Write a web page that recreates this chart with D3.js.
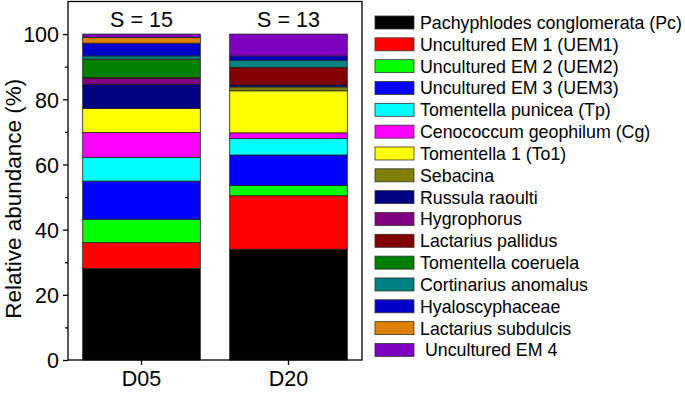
<!DOCTYPE html>
<html><head><meta charset="utf-8">
<script src="https://cdn.jsdelivr.net/npm/d3@7/dist/d3.min.js"></script>
<style>
body{margin:0;background:#fff;}
text{font-family:"Liberation Sans",Arial,sans-serif;fill:#000;}
</style></head>
<body><svg id="c" width="685" height="393"></svg>
<script>
const samples = ["D05", "D20"];
const richness = ["S = 15", "S = 13"];
const taxa = ["Pachyphlodes conglomerata (Pc)", "Uncultured EM 1 (UEM1)", "Uncultured EM 2 (UEM2)", "Uncultured EM 3 (UEM3)",
  "Tomentella punicea (Tp)", "Cenococcum geophilum (Cg)", "Tomentella 1 (To1)", "Sebacina", "Russula raoulti",
  "Hygrophorus", "Lactarius pallidus", "Tomentella coeruela", "Cortinarius anomalus", "Hyaloscyphaceae",
  "Lactarius subdulcis", " Uncultured EM 4"];
const colors = ["#000000", "#ff0000", "#00ff00", "#0000ff", "#00ffff", "#ff00ff", "#ffff00", "#808000", "#000080",
  "#800080", "#800000", "#008000", "#008080", "#0000c8", "#e08000", "#8000c0"];
const valuesD05 = [28.1, 7.9, 7.2, 11.7, 7.3, 7.6, 7.4, 0, 7.4, 1.8, 0.3, 5.6, 1.0, 3.9, 1.8, 1.0];
const valuesD20 = [34.0, 16.4, 3.1, 9.4, 5.1, 1.7, 12.9, 1.2, 0.6, 0, 5.4, 0, 2.2, 1.3, 0, 6.7];
const yTicks = [0, 20, 40, 60, 80, 100];
const yMinorTicks = [10, 30, 50, 70, 90];

const svg = d3.select("#c");
const mLeft = 68, mRight = 362, mTop = 1.5, mBottom = 360;
const x = d3.scaleBand().domain(samples).range([mLeft, mRight]).paddingInner(0.2).paddingOuter(0.1);
const y = d3.scaleLinear().domain([0, 110]).range([mBottom, mTop]);

const series = [valuesD05, valuesD20];
const stacks = series.map(vals => {
  let acc = 0;
  return vals.map((v, i) => { const s = {y0: acc, y1: acc + v, i}; acc += v; return s; });
});

samples.forEach((s, si) => {
  svg.append("g").selectAll("rect").data(stacks[si].filter(d => d.y1 > d.y0)).join("rect")
    .attr("x", x(s)).attr("width", x.bandwidth())
    .attr("y", d => y(d.y1)).attr("height", d => y(d.y0) - y(d.y1))
    .attr("fill", d => colors[d.i]).attr("stroke", "#222").attr("stroke-width", 0.8);
});

// frame
svg.append("rect").attr("x", mLeft).attr("y", mTop).attr("width", mRight - mLeft).attr("height", mBottom - mTop)
  .attr("fill", "none").attr("stroke", "#000").attr("stroke-width", 1.3);

// y axis
const ya = svg.append("g").attr("transform", `translate(${mLeft},0)`)
  .call(d3.axisLeft(y).tickValues(yTicks).tickSize(5).tickPadding(4));
ya.select(".domain").remove();
ya.selectAll("text").style("font-size", "21.5px").attr("dy", "0.36em");
ya.selectAll("line").attr("stroke-width", 1.3);
svg.append("g").attr("transform", `translate(${mLeft},0)`)
  .call(d3.axisLeft(y).tickValues(yMinorTicks).tickSize(3).tickFormat(""))
  .call(g => g.select(".domain").remove())
  .selectAll("line").attr("stroke-width", 1.3);

// x axis
const xa = svg.append("g").attr("transform", `translate(0,${mBottom})`)
  .call(d3.axisBottom(x).tickSize(5).tickPadding(6));
xa.select(".domain").remove();
xa.selectAll("line").attr("stroke-width", 1.3);
xa.selectAll("text").style("font-size", "21.5px");

// S labels
svg.append("g").selectAll("text").data(samples).join("text")
  .attr("x", d => x(d) + x.bandwidth() / 2).attr("y", 27)
  .attr("text-anchor", "middle").style("font-size", "21.5px")
  .text((d, i) => richness[i]);

// y title
svg.append("text").attr("transform", `translate(21,${(mTop + mBottom) / 2 + 18}) rotate(-90)`)
  .attr("text-anchor", "middle").style("font-size", "22.5px").text("Relative abundance (%)");

// legend
const lg = svg.append("g");
const rowH = 21.83, ly0 = 22.5;
taxa.forEach((t, i) => {
  const cy = ly0 + i * rowH;
  lg.append("rect").attr("x", 375).attr("y", cy - 6.5).attr("width", 39).attr("height", 13)
    .attr("fill", colors[i]).attr("stroke", "#333").attr("stroke-width", 0.8);
  lg.append("text").attr("x", 420).attr("y", cy).attr("dy", "0.36em")
    .style("font-size", "17.8px").style("white-space", "pre").text(t);
});
</script></body></html>
